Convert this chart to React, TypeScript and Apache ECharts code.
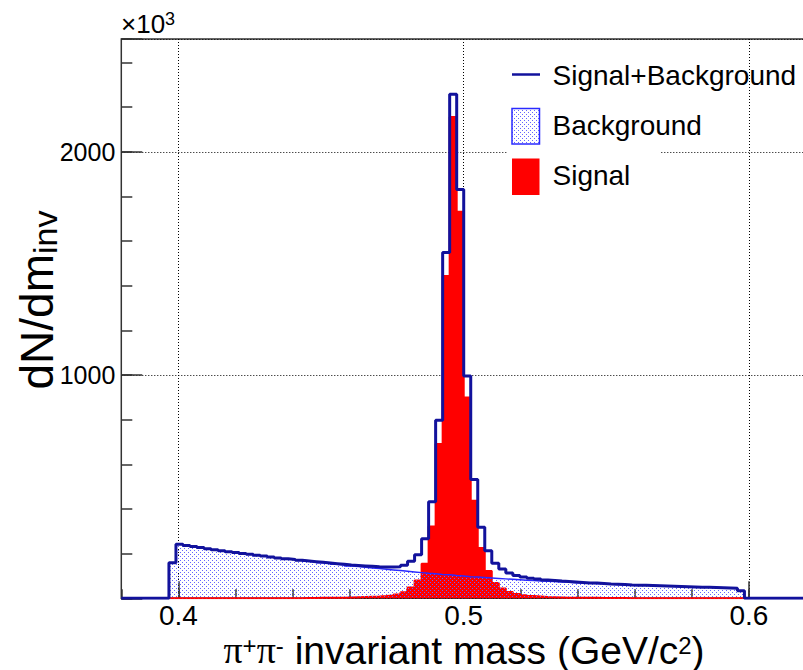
import React, { useEffect, useRef } from 'react';
import * as echarts from 'echarts';

// ---- data ----
const binLow = 0.3967;
const binWidth = 0.00246;

const background = [
  159, 242, 237, 232, 227, 222, 218, 213, 209, 205,
  201, 197, 193, 189, 185, 181, 177, 174, 170, 166,
  163, 159, 156, 152, 149, 145, 142, 139, 136, 133,
  130, 127, 124, 121, 118, 115, 112, 110, 107, 105,
  102, 100, 97, 95, 93, 91, 89, 87, 85, 83,
  81, 80, 78, 76, 75, 73, 72, 70, 69, 67,
  66, 65, 63, 62, 61, 60, 59, 58, 57, 56,
  55, 54, 53, 52, 51, 50, 49, 48, 47, 46,
  45, 34,
];

const signal = [
  0, 0, 0, 0, 0, 0, 0, 0, 0, 0,
  0, 0, 0, 0, 0, 0, 0, 0, 0, 1,
  1, 2, 2, 3, 3, 4, 5, 6, 7, 8,
  10, 13, 17, 27, 48, 80, 155, 322, 691, 1444,
  2156, 1731, 899, 437, 225, 122, 68, 44, 28, 19,
  14, 10, 8, 6, 5, 4, 3, 3, 2, 2,
  2, 1, 1, 1, 1, 0, 0, 0, 0, 0,
  0, 0, 0, 0, 0, 0, 0, 0, 0, 0,
  0, 0,
];

const xMin = 0.38;
const xMax = 0.62;
const xMajorTicks = [0.4, 0.5, 0.6];
const xMinorStep = 0.02;
const yMax = 2505;
const yMajorStep = 1000;
const yMinorStep = 200;
const legendLabels = ['Signal+Background', 'Background', 'Signal'];

const FONT = "'Liberation Sans', Arial, Helvetica, sans-serif";

function stepPoints(values: number[], extend?: [number, number]) {
  const pts: number[][] = [];
  const end = binLow + values.length * binWidth;
  if (extend) pts.push([extend[0], 0]);
  pts.push([binLow, 0]);
  values.forEach((v, k) => {
    const lo = binLow + k * binWidth;
    pts.push([lo, v], [lo + binWidth, v]);
  });
  pts.push([end, 0]);
  if (extend) pts.push([extend[1], 0]);
  return pts;
}

function makeDots(): string {
  const c = document.createElement('canvas');
  c.width = 4;
  c.height = 4;
  const ctx = c.getContext('2d')!;
  ctx.fillStyle = 'rgb(100,100,255)';
  ctx.fillRect(0, 0, 1, 1);
  ctx.fillRect(2, 2, 1, 1);
  return c.toDataURL();
}

export default function App() {
  const ref = useRef<HTMLDivElement>(null);
  useEffect(() => {
    const chart = echarts.init(ref.current!, null, { renderer: 'svg' });
    const dots = makeDots();
    const pattern = { image: dots, repeat: 'repeat' };
    const total = background.map((b, i) => b + signal[i]);
    const tickStyle = { color: '#333', width: 1.5 };
    const dotted = { type: [1, 2], color: '#000', width: 1 };

    const option: any = {
      animation: false,
      backgroundColor: '#fff',
      grid: {
        left: 121.3, top: 39, width: 684.7, height: 559.3,
        show: true, borderColor: '#333', borderWidth: 1.5,
        backgroundColor: 'transparent', containLabel: false, outerBoundsMode: 'none',
      },
      xAxis: [
        {
          type: 'value', min: xMin, max: xMax, interval: xMinorStep,
          axisLine: { show: false },
          axisTick: { show: true, inside: true, length: 9, lineStyle: tickStyle },
          axisLabel: { show: false },
          splitLine: { show: false },
        },
        {
          type: 'value', min: xMin, max: xMax, position: 'bottom',
          axisLine: { show: false },
          axisTick: { show: true, inside: true, length: 17, customValues: xMajorTicks, lineStyle: tickStyle },
          axisLabel: {
            show: true, customValues: xMajorTicks, margin: 3,
            formatter: (v: number) => v.toFixed(1),
            fontSize: 28, lineHeight: 28, color: '#000', fontFamily: FONT,
          },
          splitLine: { show: true, lineStyle: dotted },
        },
      ],
      yAxis: [
        {
          type: 'value', min: 0, max: yMax, interval: yMinorStep,
          axisLine: { show: false },
          axisTick: { show: true, inside: true, length: 11, lineStyle: tickStyle },
          axisLabel: { show: false },
          splitLine: { show: false },
        },
        {
          type: 'value', min: 0, max: yMax, interval: yMajorStep, position: 'left',
          axisLine: { show: false },
          axisTick: { show: true, inside: true, length: 21, lineStyle: tickStyle },
          axisLabel: {
            show: true, margin: 6,
            formatter: (v: number) => (v > 0 && v % yMajorStep === 0 ? String(v) : ''),
            fontSize: 25, color: '#000', fontFamily: FONT,
          },
          splitLine: { show: true, lineStyle: dotted },
        },
      ],
      series: [
        {
          name: legendLabels[2], type: 'line', z: 2, silent: true,
          data: stepPoints(signal), symbol: 'none',
          lineStyle: { color: '#ff0000', width: 2 },
          areaStyle: { color: '#ff0000', opacity: 1 },
        },
        {
          name: legendLabels[1], type: 'line', z: 3, silent: true,
          data: stepPoints(background), symbol: 'none',
          lineStyle: { color: '#2a2aff', width: 1.5 },
          areaStyle: { color: pattern, opacity: 1 },
        },
        {
          name: legendLabels[0], type: 'line', z: 4, silent: true,
          data: stepPoints(total, [xMin, xMax]), symbol: 'none',
          lineStyle: { color: '#12129c', width: 3 },
        },
      ],
      graphic: [
        { type: 'rect', z: 1, shape: { x: 507, y: 50, width: 153, height: 150 }, style: { fill: '#fff' } },
        { type: 'line', z: 10, shape: { x1: 512, y1: 74.5, x2: 540, y2: 74.5 }, style: { stroke: '#12129c', lineWidth: 2.5 } },
        { type: 'rect', z: 10, shape: { x: 512, y: 108.5, width: 27.5, height: 35.5 }, style: { fill: pattern, stroke: '#2a2aff', lineWidth: 1.5 } },
        { type: 'rect', z: 10, shape: { x: 512, y: 158.5, width: 27.5, height: 36.5 }, style: { fill: '#ff0000' } },
        ...legendLabels.map((t, i) => ({
          type: 'text', z: 10, x: 552.5, y: [75, 125, 175][i],
          style: { text: t, fontSize: 28, fontFamily: FONT, fill: '#000', align: 'left', verticalAlign: 'middle', textAlign: 'left', textVerticalAlign: 'middle' },
        })),
        {
          type: 'text', z: 10, x: 121, y: 38,
          style: {
            text: '{a|×10}{b|3}', align: 'left', verticalAlign: 'bottom', textAlign: 'left', textVerticalAlign: 'bottom',
            rich: {
              a: { fontSize: 26, lineHeight: 28, fontFamily: FONT, fill: '#000', color: '#000' },
              b: { fontSize: 18, lineHeight: 16, fontFamily: FONT, fill: '#000', color: '#000', verticalAlign: 'top' },
            },
          },
        },
        {
          type: 'text', z: 10, x: 464, y: 667,
          style: {
            text: '{p|π}{s|+}{p|π}{s|-}{t| invariant mass (GeV/c}{s|2}{t|)}',
            align: 'center', verticalAlign: 'bottom', textAlign: 'center', textVerticalAlign: 'bottom',
            rich: {
              p: { fontSize: 38, lineHeight: 34, fontFamily: "'Liberation Serif', serif", fill: '#000', color: '#000' },
              t: { fontSize: 39, lineHeight: 34, fontFamily: FONT, fill: '#000', color: '#000' },
              s: { fontSize: 24, lineHeight: 12, fontFamily: FONT, fill: '#000', color: '#000', verticalAlign: 'top' },
            },
          },
        },
        {
          type: 'text', z: 10, x: 37, y: 300, rotation: Math.PI / 2,
          style: {
            text: '{a|dN/dm}{b|inv}',
            align: 'center', verticalAlign: 'middle', textAlign: 'center', textVerticalAlign: 'middle',
            rich: {
              a: { fontSize: 46, lineHeight: 50, fontFamily: FONT, fill: '#000', color: '#000' },
              b: { fontSize: 34, lineHeight: 22, fontFamily: FONT, fill: '#000', color: '#000', verticalAlign: 'bottom' },
            },
          },
        },
      ],
    };
    chart.setOption(option);
    return () => chart.dispose();
  }, []);
  return (
    <div
      ref={ref}
      style={{ position: 'absolute', left: 0, top: 0, width: 803, height: 670, background: '#fff' }}
    />
  );
}
